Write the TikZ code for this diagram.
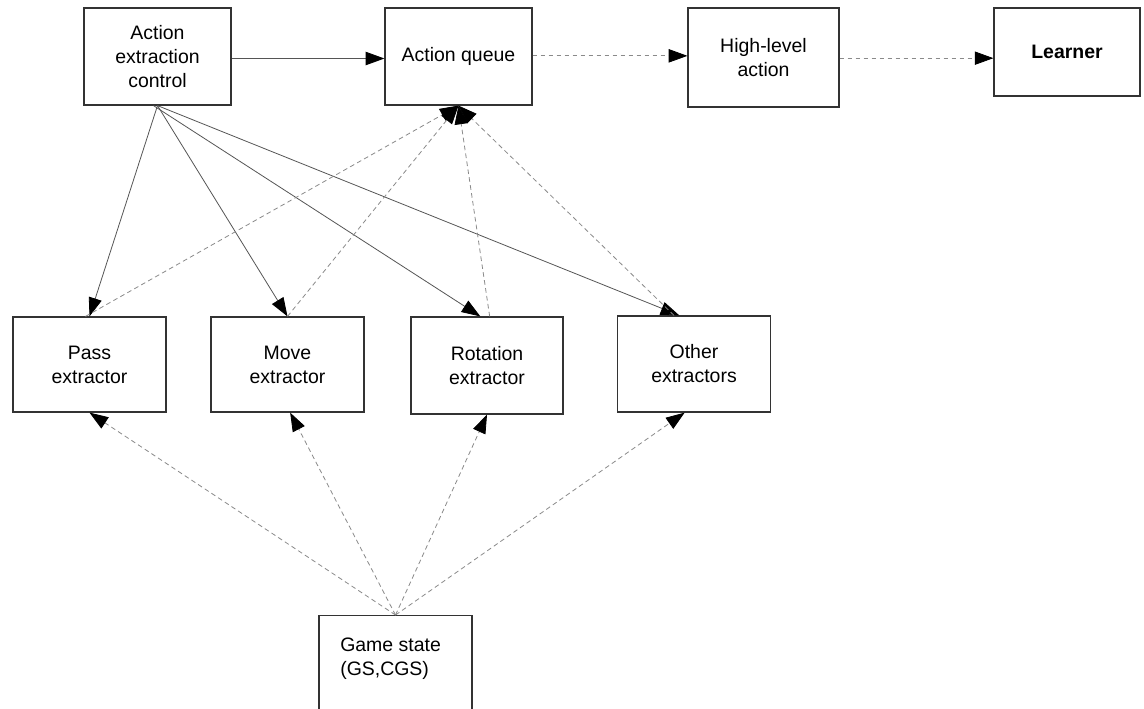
\documentclass[tikz,border=0pt]{standalone}
\usepackage{fontspec}
\setmainfont{Liberation Sans}
\usetikzlibrary{arrows.meta}
\definecolor{boxline}{HTML}{333333}
\definecolor{solidline}{HTML}{555555}
\definecolor{dashline}{HTML}{8A8A8A}
\tikzset{
  bx/.style 2 args={draw=boxline, line width=0.9pt, fill=white, inner sep=0pt,
    minimum width=#1*0.75pt, minimum height=#2*0.75pt, align=center,
    font=\fontsize{14.6}{18}\selectfont},
  tip/.style={-{Triangle[length=14pt,width=10pt,black]}},
  solidedge/.style={tip, draw=solidline, line width=0.6pt},
  dashedge/.style={tip, draw=dashline, line width=0.6pt, dash pattern=on 3.5pt off 2.5pt},
}
\begin{document}
\begin{tikzpicture}[x=0.75pt, y=-0.75pt]
\useasboundingbox (0,0) rectangle (1144,708);
\clip (0,0) rectangle (1144,708);
\fill[white] (0,0) rectangle (1144,708);

% top row
\node[bx={147}{97}] (aec) at (157.5,56.5) {Action\\extraction\\control};
\node[bx={147}{97}] (queue) at (458.5,56.5) {Action queue};
\node[bx={151}{99}] (high) at (763.5,57.5) {High-level\\action};
\node[bx={146}{88}, font=\fontsize{14.6}{18}\selectfont\bfseries] (learner) at (1067,52) {Learner};

% extractors
\node[bx={153}{95}] (pass) at (89.5,364.5) {Pass\\extractor};
\node[bx={153}{95}] (move) at (287.5,364.5) {Move\\extractor};
\node[bx={152}{97}] (rot) at (487,365.5) {Rotation\\extractor};
\node[bx={153}{96}] (other) at (694,364) {Other\\extractors};

% game state, runs past the lower edge
\node[bx={153}{120}, anchor=north] (game) at (395.5,615) {};
\node[anchor=north west, align=left, inner sep=0pt, font=\fontsize{14.6}{18}\selectfont] (gametext) at (340,638) {Game state\\(GS,CGS)};

% control flow
\coordinate (aecout) at ([yshift=-1.5]aec.east);
\draw[solidedge] (aecout) -- (queue.west |- aecout);
\draw[solidedge] (aec.south) -- (pass.north);
\draw[solidedge] (aec.south) -- (move.north);
\draw[solidedge] ([xshift=-3]aec.south) -- ([xshift=-5]rot.north);
\draw[solidedge] (aec.south) -- ([xshift=-11]other.north);

% extractor results into the queue
\draw[dashedge] ([xshift=-3]pass.north) -- (queue.south);
\draw[dashedge] (move.north) -- (queue.south);
\draw[dashedge] ([xshift=2]rot.north) -- (queue.south);
\draw[dashedge] ([xshift=-15]other.north) -- (queue.south);

% queue to learner
\coordinate (queueout) at ([yshift=0.5]queue.east);
\coordinate (highout) at ([yshift=-0.5]high.east);
\draw[dashedge] (queueout) -- (high.west |- queueout);
\draw[dashedge] (highout) -- (learner.west |- highout);

% game state feeds every extractor
\draw[dashedge] (game.north) -- (pass.south);
\draw[dashedge] (game.north) -- ([xshift=2]move.south);
\draw[dashedge] (game.north) -- (rot.south);
\draw[dashedge] (game.north) -- ([xshift=-7]other.south);
\end{tikzpicture}
\end{document}
